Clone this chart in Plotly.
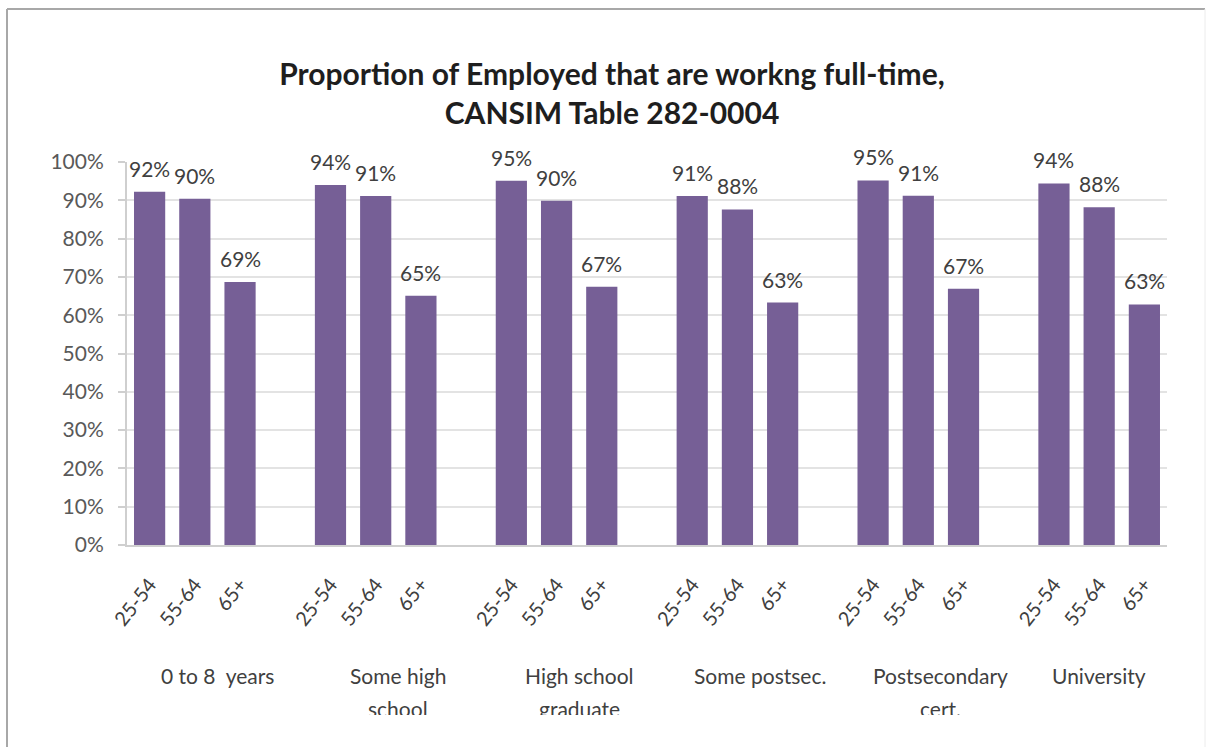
import plotly.graph_objects as go

# ---- data ----
groups = ["0 to 8  years", "Some high<br>school", "High school<br>graduate",
          "Some postsec.", "Postsecondary<br>cert.", "University"]
age_bands = ["25-54", "55-64", "65+"]
share_25_54 = [92.2, 94.0, 95.1, 91.1, 95.2, 94.4]
share_55_64 = [90.4, 91.1, 89.9, 87.6, 91.2, 88.2]
share_65_plus = [68.7, 65.1, 67.4, 63.3, 66.9, 62.8]
y_ticks = list(range(0, 101, 10))
y_tick_labels = [f"{t}%" for t in y_ticks]

W, H = 1210, 747
FONT = "Lato"
BAR = "#765F96"

# build category slots: 3 bars per group, one empty slot between groups
xs, ys, ticktext = [], [], []
slot = 0
group_centers = []
for g in range(len(groups)):
    vals = [share_25_54[g], share_55_64[g], share_65_plus[g]]
    start = slot
    for a, v in enumerate(vals):
        xs.append(slot)
        ys.append(v)
        ticktext.append(age_bands[a])
        slot += 1
    if g < len(groups) - 1:
        slot += 1  # empty separator slot
    group_centers.append((start + slot - 1) / 2)
n_slots = slot

fig = go.Figure()
fig.add_trace(go.Bar(x=xs, y=ys, marker=dict(color=BAR, line=dict(width=0)),
                     hoverinfo="x+y"))

# data labels
for x, y in zip(xs, ys):
    fig.add_annotation(x=x, y=y, xref="x", yref="y", text=f"{y:.0f}%",
                       showarrow=False, yanchor="bottom", yshift=9,
                       font=dict(family=FONT, size=21, color="#404040"))

# group labels (each line placed separately for Excel-like line spacing)
for c, name in zip(group_centers, groups):
    for li, line in enumerate(name.split("<br>")):
        top = 661 if li == 0 else 694
        fig.add_annotation(x=c, y=(H - top) / H, xref="x", yref="paper", text=line,
                           showarrow=False, yanchor="top", align="center",
                           font=dict(family=FONT, size=21, color="#404040"))

# white cover mimicking the clipped bottom of the chart
fig.add_annotation(x=(12 + 1200) / 2 / W, y=(H - 715) / H, xref="paper", yref="paper",
                   text="&nbsp;", showarrow=False, xanchor="center", yanchor="top",
                   width=1188, height=40, bgcolor="white", borderpad=0, borderwidth=0)

# outer border (top / left darker, right faint)
fig.add_shape(type="line", xref="paper", yref="paper", x0=7 / W, x1=1205 / W,
              y0=(H - 9) / H, y1=(H - 9) / H, line=dict(color="#a8a8a8", width=2))
fig.add_shape(type="line", xref="paper", yref="paper", x0=7 / W, x1=7 / W,
              y0=(H - 9) / H, y1=-0.05, line=dict(color="#a8a8a8", width=2))
fig.add_shape(type="line", xref="paper", yref="paper", x0=1205 / W, x1=1205 / W,
              y0=(H - 9) / H, y1=-0.05, line=dict(color="#ececec", width=1))

fig.update_layout(
    width=W, height=H,
    margin=dict(l=0, r=0, t=0, b=0),
    template="none",
    paper_bgcolor="white", plot_bgcolor="white",
    showlegend=False,
    bargap=0.31,
    title=dict(text="<b>Proportion of Employed that are workng full-time,<br>CANSIM Table 282-0004</b>",
               x=612 / W, xanchor="center", y=(H - 85) / H, yanchor="top",
               yref="container",
               font=dict(family=FONT, size=30, color="#1e1e1e")),
    xaxis=dict(domain=[127 / W, 1167 / W], range=[-0.5, n_slots - 0.5],
               tickmode="array", tickvals=xs, ticktext=ticktext, tickangle=-52,
               ticks="", ticklabelstandoff=18,
               tickfont=dict(family=FONT, size=20, color="#404040"),
               showgrid=False, zeroline=False,
               showline=True, linecolor="#cfcfcf", linewidth=2),
    yaxis=dict(domain=[(H - 545) / H, (H - 162) / H], range=[0, 100],
               tickmode="array", tickvals=y_ticks, ticktext=y_tick_labels,
               ticks="outside", ticklen=7, tickcolor="#cfcfcf", tickwidth=2,
               ticklabelstandoff=10,
               tickfont=dict(family=FONT, size=21, color="#595959"),
               showgrid=True, gridcolor="#e3e3e3", gridwidth=2,
               zeroline=False, showline=True, linecolor="#cfcfcf", linewidth=2),
)

fig.write_html("out.html")
